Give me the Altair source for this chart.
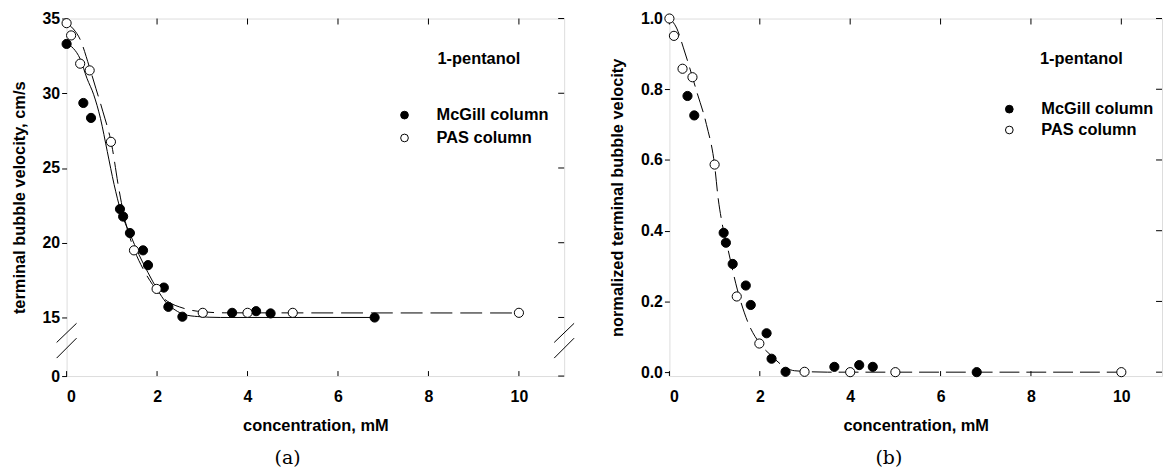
import altair as alt
import pandas as pd

# ---------------- data: panel (a) ----------------
mcgill_x_a = [0.0, 0.37, 0.54, 1.18, 1.25, 1.40, 1.69, 1.80, 2.15, 2.25, 2.56, 3.66, 4.19, 4.51, 6.81]
mcgill_v_a = [33.3, 29.35, 28.35, 22.25, 21.75, 20.65, 19.49, 18.5, 17.0, 15.71, 15.05, 15.31, 15.42, 15.27, 14.98]
pas_x_a = [0.0, 0.10, 0.30, 0.51, 0.98, 1.49, 1.99, 3.01, 4.0, 5.0, 10.0]
pas_v_a = [34.69, 33.87, 31.98, 31.53, 26.75, 19.49, 16.91, 15.31, 15.31, 15.31, 15.31]

fit_mcgill_x_a = [0, 0.15, 0.3, 0.45, 0.6, 0.75, 0.9, 1.05, 1.2, 1.4, 1.6, 1.8, 2.0, 2.2, 2.4, 2.6, 2.9, 3.4, 6.9]
fit_mcgill_v_a = [33.3, 33.0, 32.3, 31.0, 29.9, 28.3, 26.1, 23.9, 22.1, 20.6, 19.2, 18.0, 16.9, 16.0, 15.5, 15.2, 15.06, 15.0, 15.0]
fit_pas_x_a = [0, 0.15, 0.3, 0.5, 0.65, 0.8, 1.0, 1.15, 1.3, 1.5, 1.7, 1.9, 2.1, 2.3, 2.5, 2.7, 3.0, 3.5, 10.0]
fit_pas_v_a = [34.7, 34.3, 33.6, 31.8, 30.3, 28.8, 26.5, 23.7, 21.4, 19.5, 18.2, 17.2, 16.4, 15.95, 15.7, 15.52, 15.38, 15.31, 15.3]

# axis-break marks of panel (a)
brk_x1 = [-0.22, -0.22, 10.78, 10.78]
brk_x2 = [0.22, 0.22, 11.22, 11.22]
brk_y1 = [8.6, 4.6, 8.6, 4.6]
brk_y2 = [13.5, 9.7, 13.5, 9.7]

# ---------------- data: panel (b) ----------------
mcgill_x_b = [0.40, 0.55, 1.20, 1.25, 1.40, 1.69, 1.80, 2.15, 2.26, 2.57, 3.65, 4.20, 4.50, 6.80]
mcgill_v_b = [0.781, 0.726, 0.394, 0.366, 0.306, 0.245, 0.190, 0.110, 0.038, 0.001, 0.015, 0.020, 0.015, 0.0]
pas_x_b = [0.0, 0.10, 0.29, 0.51, 1.0, 1.49, 1.99, 2.99, 4.0, 5.0, 10.0]
pas_v_b = [1.0, 0.951, 0.858, 0.834, 0.587, 0.214, 0.081, 0.001, 0.0, 0.0, 0.0]

fit_x_b = [0, 0.16, 0.31, 0.45, 0.6, 0.82, 1.0, 1.08, 1.16, 1.3, 1.5, 1.74, 2.0, 2.26, 2.51, 2.77, 3.5, 10.0]
fit_v_b = [1.0, 0.973, 0.917, 0.86, 0.795, 0.70, 0.585, 0.49, 0.425, 0.345, 0.235, 0.14, 0.081, 0.046, 0.018, 0.004, 0.0, 0.0]

series_names = ["McGill column", "PAS column"]
annotation = "1-pentanol"
x_ticks = [0, 2, 4, 6, 8, 10]
y_ticks_a = [0, 15, 20, 25, 30, 35]
y_ticks_b = [0, 0.2, 0.4, 0.6, 0.8, 1.0]

FONT = "Liberation Sans"
H = 360
TXT = 16.5


def points_df(mx, mv, px, pv):
    return pd.DataFrame({
        "x": mx + px,
        "v": mv + pv,
        "series": [series_names[0]] * len(mx) + [series_names[1]] * len(px),
    })


def panel(pts, fit_lines, xs, ys, width, y_title, y_fmt, legend_xy, row_pad, ann_xy, caption, cap_dx,
          breaks=None):
    W = width
    x_main = alt.Axis(values=x_ticks, title="concentration, mM", orient="bottom", ticks=False,
                      domain=False, grid=False, labelFont=FONT, labelFontSize=16,
                      labelFontWeight="bold", labelPadding=13, labelColor="black",
                      titleFont=FONT, titleFontSize=TXT, titleFontWeight="bold",
                      titlePadding=13, titleColor="black")
    y_main = alt.Axis(values=ys["ticks"], title=y_title, orient="left", tickSize=5, tickColor="black",
                      domain=False, grid=False, format=y_fmt, labelFont=FONT, labelFontSize=16,
                      labelFontWeight="bold", labelPadding=2, labelColor="black",
                      titleFont=FONT, titleFontSize=TXT, titleFontWeight="bold",
                      titlePadding=15, titleColor="black")

    xscale = alt.Scale(domain=xs, nice=False, zero=False)
    yscale = ys["scale"]

    def X(field="x"):
        return alt.X(f"{field}:Q", scale=xscale, axis=x_main)

    def Y(field="v"):
        return alt.Y(f"{field}:Q", scale=yscale, axis=y_main)

    layers = []
    for fx, fv, dash in fit_lines:
        df = pd.DataFrame({"x": fx, "v": fv})
        props = dict(color="black", strokeWidth=1, interpolate="monotone")
        if dash:
            props["strokeDash"] = dash
        layers.append(alt.Chart(df).mark_line(**props).encode(x=X(), y=Y()))

    # inward tick marks on bottom, top and right frame edges (at the axis tick values)
    xt = pd.DataFrame({"x": x_ticks})
    yt = pd.DataFrame({"v": ys["ticks"]})
    layers.append(alt.Chart(xt).mark_rule(color="black", strokeWidth=1).encode(
        x=X(), y=alt.value(H), y2=alt.value(H - 5)))
    layers.append(alt.Chart(xt).mark_rule(color="black", strokeWidth=1).encode(
        x=X(), y=alt.value(0), y2=alt.value(6)))
    layers.append(alt.Chart(yt).mark_rule(color="black", strokeWidth=1).encode(
        y=Y(), x=alt.value(W), x2=alt.value(W - 6)))

    ann = alt.Chart(pd.DataFrame({"x": [ann_xy[0]], "v": [ann_xy[1]], "t": [annotation]})).mark_text(
        align="left", baseline="middle", font=FONT, fontSize=TXT, fontWeight="bold", color="black"
    ).encode(x=X(), y=Y(), text="t:N")
    layers.append(ann)

    if breaks is not None:
        bdf = pd.DataFrame({"x": breaks[0], "x2": breaks[1], "v": breaks[2], "v2": breaks[3]})
        layers.append(alt.Chart(bdf).mark_rule(color="black", strokeWidth=1).encode(
            x=X(), x2="x2:Q", y=Y(), y2="v2:Q"))

    point_layer = alt.Chart(pts).mark_point(shape="circle", size=85, filled=True, stroke="black",
                                            strokeWidth=1, opacity=1).encode(
        x=X(), y=Y(),
        fill=alt.Fill("series:N", scale=alt.Scale(domain=series_names, range=["black", "white"]),
                      legend=alt.Legend(title=None, orient="none", legendX=legend_xy[0],
                                        legendY=legend_xy[1], symbolType="circle", symbolSize=60,
                                        symbolStrokeColor="black", symbolStrokeWidth=1,
                                        labelFont=FONT, labelFontSize=TXT, labelFontWeight="bold",
                                        labelColor="black", labelOffset=24, rowPadding=row_pad,
                                        padding=0)),
    )
    layers.append(point_layer)

    ch = alt.layer(*layers).properties(
        width=W, height=H,
        title=alt.TitleParams(caption, orient="bottom", font="DejaVu Serif", fontSize=19,
                              fontWeight="normal", color="black", offset=15, anchor="middle",
                              frame="group", dx=cap_dx))
    return ch


left = panel(
    points_df(mcgill_x_a, mcgill_v_a, pas_x_a, pas_v_a),
    [(fit_mcgill_x_a, fit_mcgill_v_a, None), (fit_pas_x_a, fit_pas_v_a, [22, 8])],
    [0, 11],
    {"ticks": y_ticks_a, "scale": alt.Scale(domain=[0, 15, 35], range=[H, H - 59, 0], nice=False, zero=False)},
    501, "terminal bubble velocity, cm/s", "d", (332, 89), 6, (8.2, 32.3), "(a)", -28,
    breaks=(brk_x1, brk_x2, brk_y1, brk_y2),
)

right = panel(
    points_df(mcgill_x_b, mcgill_v_b, pas_x_b, pas_v_b),
    [(fit_x_b, fit_v_b, [20, 7])],
    [0, 10.9],
    {"ticks": y_ticks_b, "scale": alt.Scale(domain=[-0.011, 1.0], nice=False, zero=False)},
    496, "normalized terminal bubble velocity", ".1f", (334, 83), 4, (8.2, 0.885), "(b)", -27,
)

chart = alt.hconcat(left, right, spacing=106, bounds="flush").resolve_scale(fill="independent").properties(
    padding={"left": 2, "top": 0, "right": 0, "bottom": 0}
).configure_view(stroke="black", strokeWidth=1).configure(background="white")

chart.save("out.html", embed_options={"renderer": "svg", "actions": False})
